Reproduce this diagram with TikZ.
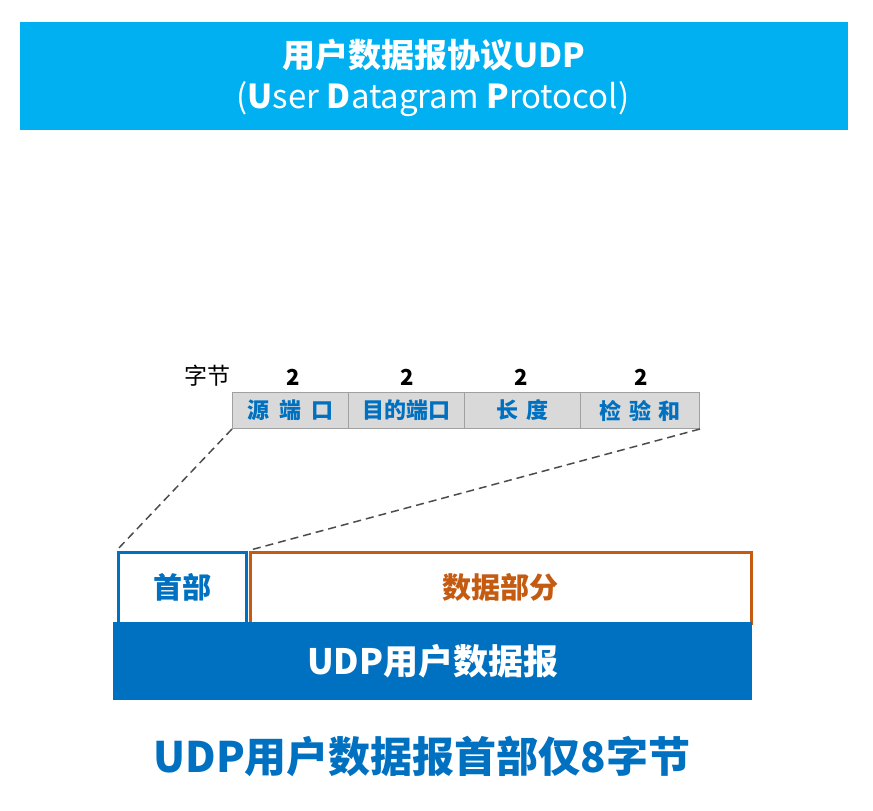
\documentclass[tikz,border=0pt]{standalone}
\usepackage{fontspec}
\setmainfont{Noto Sans CJK SC}
\definecolor{banner}{RGB}{0,176,240}
\definecolor{dblue}{RGB}{0,112,192}
\definecolor{fieldgray}{RGB}{217,217,217}
\definecolor{fieldline}{RGB}{160,160,160}
\definecolor{orng}{RGB}{197,90,17}
\begin{document}
\begin{tikzpicture}[x=1pt,y=-1pt,
  fieldbox/.style={draw=fieldline,fill=fieldgray,line width=1pt,minimum width=116pt,minimum height=36pt,inner sep=0pt,text=dblue,font=\fontsize{22}{22}\selectfont\bfseries,anchor=north west},
  bytelbl/.style={font=\fontsize{22}{22}\selectfont\bfseries},
  dashline/.style={draw=black!70,dashed,dash pattern=on 8pt off 5pt,line width=1.5pt}]
\useasboundingbox (0,0) rectangle (873,811);
% banner
\node[fill=banner,minimum width=828pt,minimum height=108pt,inner sep=0pt,anchor=north west] (banner) at (20,22) {};
\node[text=white,font=\fontsize{33}{33}\selectfont\bfseries] (t1) at (434,55) {用户数据报协议UDP};
\node[text=white,font=\fontsize{33}{33}\selectfont] (t2) at (433,99) {(\textbf{U}ser \textbf{D}atagram \textbf{P}rotocol)};
% header fields
\node[font=\fontsize{23}{23}\selectfont] (zj) at (207,376) {字节};
\node[fieldbox] (f1) at (232,392) {源\hspace{0.45em}端\hspace{0.45em}口};
\node[fieldbox] (f2) at (348,392) {目的端口};
\node[fieldbox] (f3) at (464,392) {长\hspace{0.4em}度};
\node[fieldbox,minimum width=119pt] (f4) at (580,392) {检\hspace{0.35em}验\hspace{0.35em}和};
\node[bytelbl] (b1) at (293,377) {2};
\node[bytelbl] (b2) at (407,377) {2};
\node[bytelbl] (b3) at (521,377) {2};
\node[bytelbl] (b4) at (641,377) {2};
% datagram
\node[draw=dblue,line width=3pt,fill=white,minimum width=128pt,minimum height=71pt,inner sep=0pt,anchor=north west,text=dblue,font=\fontsize{29}{29}\selectfont\bfseries] (hdr) at (116.5,550.5) {首部};
\node[draw=orng,line width=3pt,fill=white,minimum width=501pt,minimum height=71pt,inner sep=0pt,anchor=north west,text=orng,font=\fontsize{29}{29}\selectfont\bfseries] (data) at (248.5,550.5) {数据部分};
\node[fill=dblue,minimum width=639pt,minimum height=78pt,inner sep=0pt,anchor=north west,text=white,font=\fontsize{35}{35}\selectfont\bfseries] (udp) at (113,622) {UDP用户数据报};
\draw[dashline] (f1.south west) -- (hdr.north west);
\draw[dashline] (f4.south east) -- (data.north west);
% caption
\node[text=dblue,font=\fontsize{42}{42}\selectfont\bfseries] (cap) at (422,757) {UDP用户数据报首部仅8字节};
\end{tikzpicture}
\end{document}
